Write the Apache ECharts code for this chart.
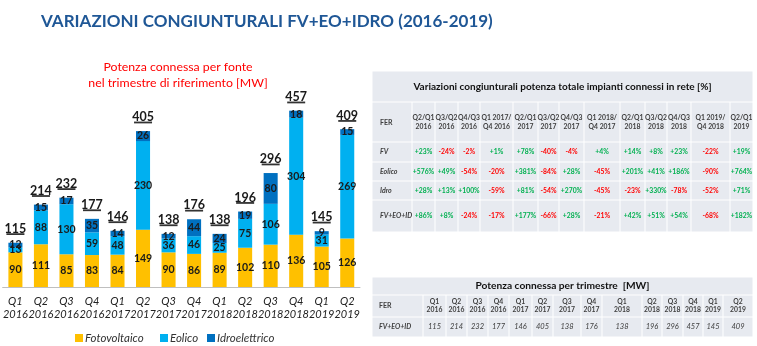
<!DOCTYPE html>
<html>
<head>
<meta charset="utf-8">
<script src="https://cdn.jsdelivr.net/npm/echarts@6/dist/echarts.min.js"></script>
<style>html,body{margin:0;padding:0;background:#fff}#c{width:757px;height:346px}</style>
</head>
<body>
<div id="c"></div>
<script>
// ---------- DATA ----------
const categories = ['Q1\n2016','Q2\n2016','Q3\n2016','Q4\n2016','Q1\n2017','Q2\n2017','Q3\n2017','Q4\n2017','Q1\n2018','Q2\n2018','Q3\n2018','Q4\n2018','Q1\n2019','Q2\n2019'];
const fotovoltaico = [90,111,85,83,84,149,90,86,89,102,110,136,105,126];
const eolico = [13,88,130,59,48,230,36,46,25,75,106,304,31,269];
const idroelettrico = [12,15,17,35,14,26,12,44,24,19,80,18,9,15];
const totals = [115,214,232,177,146,405,138,176,138,196,296,457,145,409];

const pctHeaders = ['Q2/Q1\n2016','Q3/Q2\n2016','Q4/Q3\n2016','Q1 2017/\nQ4 2016','Q2/Q1\n2017','Q3/Q2\n2017','Q4/Q3\n2017','Q1 2018/\nQ4 2017','Q2/Q1\n2018','Q3/Q2\n2018','Q4/Q3\n2018','Q1 2019/\nQ4 2018','Q2/Q1\n2019'];
const pctRowLabels = ['FV','Eolico','Idro','FV+EO+ID'];
const pctFV = ['+23%','-24%','-2%','+1%','+78%','-40%','-4%','+4%','+14%','+8%','+23%','-22%','+19%'];
const pctEolico = ['+576%','+49%','-54%','-20%','+381%','-84%','+28%','-45%','+201%','+41%','+186%','-90%','+764%'];
const pctIdro = ['+28%','+13%','+100%','-59%','+81%','-54%','+270%','-45%','-23%','+330%','-78%','-52%','+71%'];
const pctTot = ['+86%','+8%','-24%','-17%','+177%','-66%','+28%','-21%','+42%','+51%','+54%','-68%','+182%'];
const mwRowLabel = 'FV+EO+ID';

// ---------- LAYOUT ----------
const FONT = 'Lato, "Open Sans", sans-serif';
const t1Cols = [372,412,435,458,480,513,538,559,584,620,645,667,691,730,753];
const t1Rows = [71,102,142,162,181,200,232];
const t2Cols = [372,423,446,467,488,509,532,553,581,602,642,662,683,703,723,753];
const t2Rows = [277,295,317,337];
const CELL = '#E7EAF0';
const GREEN = '#00B050', RED = '#FF0000', TXT = '#404040';

function cellRect(x0,x1,y0,y1){
  return {type:'rect', shape:{x:x0+0.5,y:y0+0.5,width:x1-x0-1,height:y1-y0-1}, style:{fill:CELL}, silent:true};
}
function txt(t,x,y,opts){
  return {type:'text', silent:true, style:Object.assign({text:t,x:x,y:y,align:'center',verticalAlign:'middle',fill:TXT,font:'bold 6.8px '+FONT,lineHeight:9},opts||{})};
}
const g = [];
// Table 1
g.push(cellRect(t1Cols[0], t1Cols[t1Cols.length-1], t1Rows[0], t1Rows[1]));
g.push(txt('Variazioni congiunturali potenza totale impianti connessi in rete [%]', (t1Cols[0]+t1Cols[t1Cols.length-1])/2, (t1Rows[0]+t1Rows[1])/2, {font:'bold 10px '+FONT, fill:'#111'}));
const pctData = [pctFV,pctEolico,pctIdro,pctTot];
for(let r=1;r<t1Rows.length-1;r++){
  for(let c=0;c<t1Cols.length-1;c++){
    g.push(cellRect(t1Cols[c],t1Cols[c+1],t1Rows[r],t1Rows[r+1]));
    const cx=(t1Cols[c]+t1Cols[c+1])/2, cy=(t1Rows[r]+t1Rows[r+1])/2;
    if(r===1){
      if(c===0) g.push(txt('FER', t1Cols[0]+8, cy+1, {align:'left', font:'bold 7px '+FONT}));
      else g.push(txt(pctHeaders[c-1], cx, cy, {font:'bold 6.8px '+FONT}));
    } else {
      if(c===0) g.push(txt(pctRowLabels[r-2], t1Cols[0]+8, cy, {align:'left', font:'italic bold 7px '+FONT}));
      else { const v=pctData[r-2][c-1]; g.push(txt(v, cx, cy, {fill: v[0]==='+'?GREEN:RED})); }
    }
  }
}
// Table 2
g.push(cellRect(t2Cols[0], t2Cols[t2Cols.length-1], t2Rows[0], t2Rows[1]));
g.push(txt('Potenza connessa per trimestre  [MW]', (t2Cols[0]+t2Cols[t2Cols.length-1])/2, (t2Rows[0]+t2Rows[1])/2, {font:'bold 10.2px '+FONT, fill:'#111'}));
for(let r=1;r<t2Rows.length-1;r++){
  for(let c=0;c<t2Cols.length-1;c++){
    g.push(cellRect(t2Cols[c],t2Cols[c+1],t2Rows[r],t2Rows[r+1]));
    const cx=(t2Cols[c]+t2Cols[c+1])/2, cy=(t2Rows[r]+t2Rows[r+1])/2;
    if(r===1){
      if(c===0) g.push(txt('FER', t2Cols[0]+7, cy, {align:'left', font:'bold 7px '+FONT}));
      else g.push(txt(categories[c-1], cx, cy, {font:'bold 6.8px '+FONT, lineHeight:8}));
    } else {
      if(c===0) g.push(txt(mwRowLabel, t2Cols[0]+7, cy, {align:'left', font:'italic bold 7px '+FONT}));
      else g.push(txt(String(totals[c-1]), cx, cy, {font:'italic 7.5px '+FONT}));
    }
  }
}

const chart = echarts.init(document.getElementById('c'), null, {renderer:'canvas'});
const segLabel = {show:true, position:'inside', color:'#1a1a1a', fontWeight:'bold', fontSize:10.5, fontFamily:FONT};
const legendText = {fontStyle:'italic', fontSize:11.5, color:'#333', fontFamily:FONT, padding:[0,0,0,-3]};
function leg(name, left){
  return {left:left, top:332, padding:0, icon:'rect', itemWidth:8, itemHeight:8, textStyle:legendText, data:[name]};
}
chart.setOption({
  animation:false,
  title:[
    {text:'VARIAZIONI CONGIUNTURALI FV+EO+IDRO (2016-2019)', left:36, top:8, textStyle:{color:'#1F5796', fontSize:17, fontWeight:'bold', fontFamily:FONT}},
    {text:'Potenza connessa per fonte\nnel trimestre di riferimento [MW]', left:173, top:54, textAlign:'center', textStyle:{color:'#FF0000', fontSize:12.3, fontWeight:'normal', lineHeight:16, fontFamily:FONT}}
  ],
  legend:[leg('Fotovoltaico',75), leg('Eolico',160), leg('Idroelettrico',207)],
  grid:{left:0, width:360, top:94.5, bottom:59},
  xAxis:{type:'category', data:categories, axisLine:{lineStyle:{color:'#BFBFBF'}}, axisTick:{length:5, lineStyle:{color:'#BFBFBF'}}, axisLabel:{interval:0, fontStyle:'italic', fontSize:11, lineHeight:13, color:'#222', margin:8, fontFamily:FONT}},
  yAxis:{type:'value', min:0, max:500, show:false, splitLine:{show:false}},
  series:[
    {name:'Fotovoltaico', type:'bar', stack:'a', data:fotovoltaico, barCategoryGap:'45%', itemStyle:{color:'#FFC000'}, label:segLabel},
    {name:'Eolico', type:'bar', stack:'a', data:eolico, itemStyle:{color:'#00B0F0'}, label:segLabel},
    {name:'Idroelettrico', type:'bar', stack:'a', data:idroelettrico, itemStyle:{color:'#0070C0'}, label:segLabel},
    {name:'Totale', type:'custom', data:totals.map((v,i)=>[i,v]), silent:true,
     renderItem:function(params, api){
       const p = api.coord([api.value(0), api.value(1)]);
       return {type:'group', children:[
         {type:'text', style:{text:String(api.value(1)), x:p[0], y:p[1]-14, align:'center', verticalAlign:'middle', font:'bold 12.5px '+FONT, fill:'#1a1a1a'}},
         {type:'rect', shape:{x:p[0]-9, y:p[1]-9.5, width:18, height:1.8}, style:{fill:'#333'}}
       ]};
     }}
  ],
  graphic:g
});
</script>
</body>
</html>
